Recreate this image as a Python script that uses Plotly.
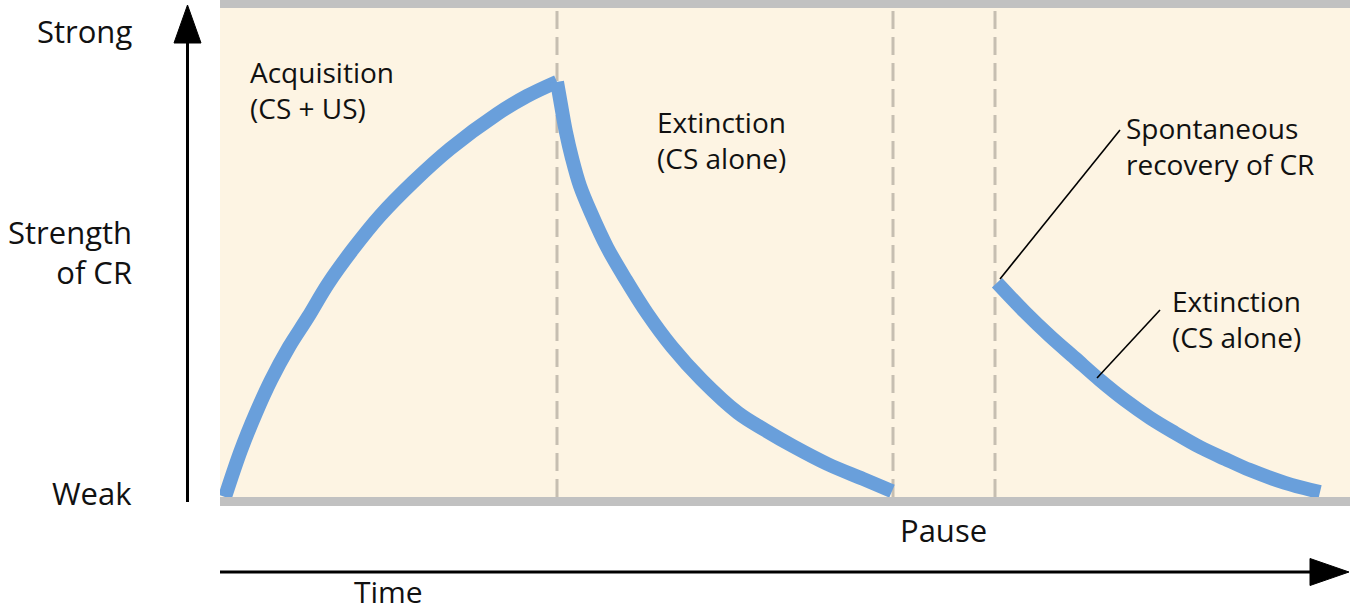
import plotly.graph_objects as go

# ---- data (time units, strength of CR 0..100) ----
acq_time = [0.5, 2.1, 3.6, 5.1, 6.9, 8.8, 10.8, 13.3, 16.0, 19.3, 23.0, 27.7, 30.7, 33.7]
acq_strength = [0.0, 9.6, 17.2, 23.9, 30.7, 36.8, 43.6, 50.7, 57.5, 64.4, 71.2, 78.3, 82.0, 84.9]

ext_time = [33.7, 34.1, 34.6, 35.2, 36.0, 37.1, 38.7, 40.6, 42.7, 45.2, 48.2, 51.8, 54.5, 57.3, 60.8, 64.3, 67.2]
ext_strength = [84.9, 80.2, 74.6, 69.3, 63.6, 58.1, 51.1, 44.4, 37.6, 30.7, 23.9, 17.2, 13.7, 10.4, 6.7, 3.7, 1.2]

rec_time = [77.7, 80.5, 83.0, 85.5, 88.0, 90.5, 93.0, 95.5, 98.0, 100.5, 103.0, 106.5, 110.0]
rec_strength = [43.8, 37.8, 32.9, 28.4, 23.9, 19.8, 16.2, 13.1, 10.2, 7.8, 5.5, 2.9, 1.0]

phase_bounds = [33.7, 67.3, 77.5]   # end of acquisition, start/end of pause

W, H = 1350, 613
ML, MR, MT, MB = 220, 0, 8, 116
PW, PH = W - ML - MR, H - MT - MB
BLUE = "#699fdb"
FONT = "Open Sans, Noto Sans, sans-serif"


def px(xp):
    return (xp - ML) / PW


def py(yp):
    return (H - MB - yp) / PH


def xpx(xp):
    return (xp - ML) / 10


def ypx(yp):
    return (H - MB - yp) * 100 / PH


fig = go.Figure()
for t, s in [(acq_time, acq_strength), (ext_time, ext_strength), (rec_time, rec_strength)]:
    fig.add_trace(go.Scatter(x=t, y=s, mode="lines",
                             line=dict(color=BLUE, width=14, shape="spline", smoothing=1.0),
                             hoverinfo="skip", showlegend=False))

shapes = []
for b in phase_bounds:
    shapes.append(dict(type="line", xref="x", yref="paper", x0=b, x1=b, y0=0, y1=1,
                       line=dict(color="#c6beb1", width=3, dash="18px,8px"), layer="below"))
shapes.append(dict(type="rect", xref="paper", yref="paper", x0=0, x1=1, y0=1, y1=py(0),
                   fillcolor="#c1c1c1", line=dict(width=0), layer="above"))
shapes.append(dict(type="rect", xref="paper", yref="paper", x0=0, x1=1, y0=0, y1=py(506),
                   fillcolor="#c1c1c1", line=dict(width=0), layer="above"))
# leader lines
shapes.append(dict(type="line", xref="x", yref="y", x0=xpx(1000), y0=ypx(279), x1=xpx(1120), y1=ypx(130),
                   line=dict(color="black", width=1.6), layer="above"))
shapes.append(dict(type="line", xref="x", yref="y", x0=xpx(1097), y0=ypx(378), x1=xpx(1160), y1=ypx(310),
                   line=dict(color="black", width=1.6), layer="above"))
# vertical axis arrow
shapes.append(dict(type="line", xref="paper", yref="paper", x0=px(187.5), x1=px(187.5),
                   y0=py(502), y1=py(40), line=dict(color="black", width=3), layer="above"))
shapes.append(dict(type="path", xref="paper", yref="paper",
                   path=f"M {px(174)},{py(43)} L {px(187.5)},{py(5)} L {px(201)},{py(43)} Z",
                   fillcolor="black", line=dict(color="black", width=1), layer="above"))
# horizontal time arrow
shapes.append(dict(type="line", xref="paper", yref="paper", x0=px(220), x1=px(1315),
                   y0=py(572), y1=py(572), line=dict(color="black", width=3), layer="above"))
shapes.append(dict(type="path", xref="paper", yref="paper",
                   path=f"M {px(1310)},{py(558.5)} L {px(1349)},{py(572)} L {px(1310)},{py(585.5)} Z",
                   fillcolor="black", line=dict(color="black", width=1), layer="above"))

ann = []


def txt(text, x, y, xref, yref, xanchor, size, align="left"):
    ann.append(dict(text=text, x=x, y=y, xref=xref, yref=yref, xanchor=xanchor,
                    yanchor="middle", showarrow=False, align=align,
                    font=dict(family=FONT, size=size, color="#111111")))


# labels inside plot (data coordinates)
txt("Acquisition<br>(CS + US)", xpx(248), ypx(90), "x", "y", "left", 28)
txt("Extinction<br>(CS alone)", xpx(655), ypx(140), "x", "y", "left", 28)
txt("Spontaneous<br>recovery of CR", xpx(1124), ypx(146), "x", "y", "left", 28)
txt("Extinction<br>(CS alone)", xpx(1170), ypx(319), "x", "y", "left", 28)
# labels outside
txt("Strong", px(134), py(31), "paper", "paper", "right", 31)
txt("Strength<br>of CR", px(134), py(252), "paper", "paper", "right", 31, align="right")
txt("Weak", px(134), py(493), "paper", "paper", "right", 31)
txt("Pause", px(943), py(530), "paper", "paper", "center", 31)
txt("Time", px(388), py(591), "paper", "paper", "center", 30)

fig.update_layout(
    width=W, height=H,
    margin=dict(l=ML, r=MR, t=MT, b=MB, pad=0),
    paper_bgcolor="white", plot_bgcolor="#fdf4e3",
    xaxis=dict(range=[0, 113], showgrid=False, zeroline=False, showticklabels=False,
               showline=False, ticks="", fixedrange=True),
    yaxis=dict(range=[0, 100], showgrid=False, zeroline=False, showticklabels=False,
               showline=False, ticks="", fixedrange=True),
    shapes=shapes, annotations=ann, showlegend=False,
)

fig.write_html("out.html", config={"displayModeBar": False},
               post_script="document.body.style.margin='0px';document.body.style.overflow='hidden';")
